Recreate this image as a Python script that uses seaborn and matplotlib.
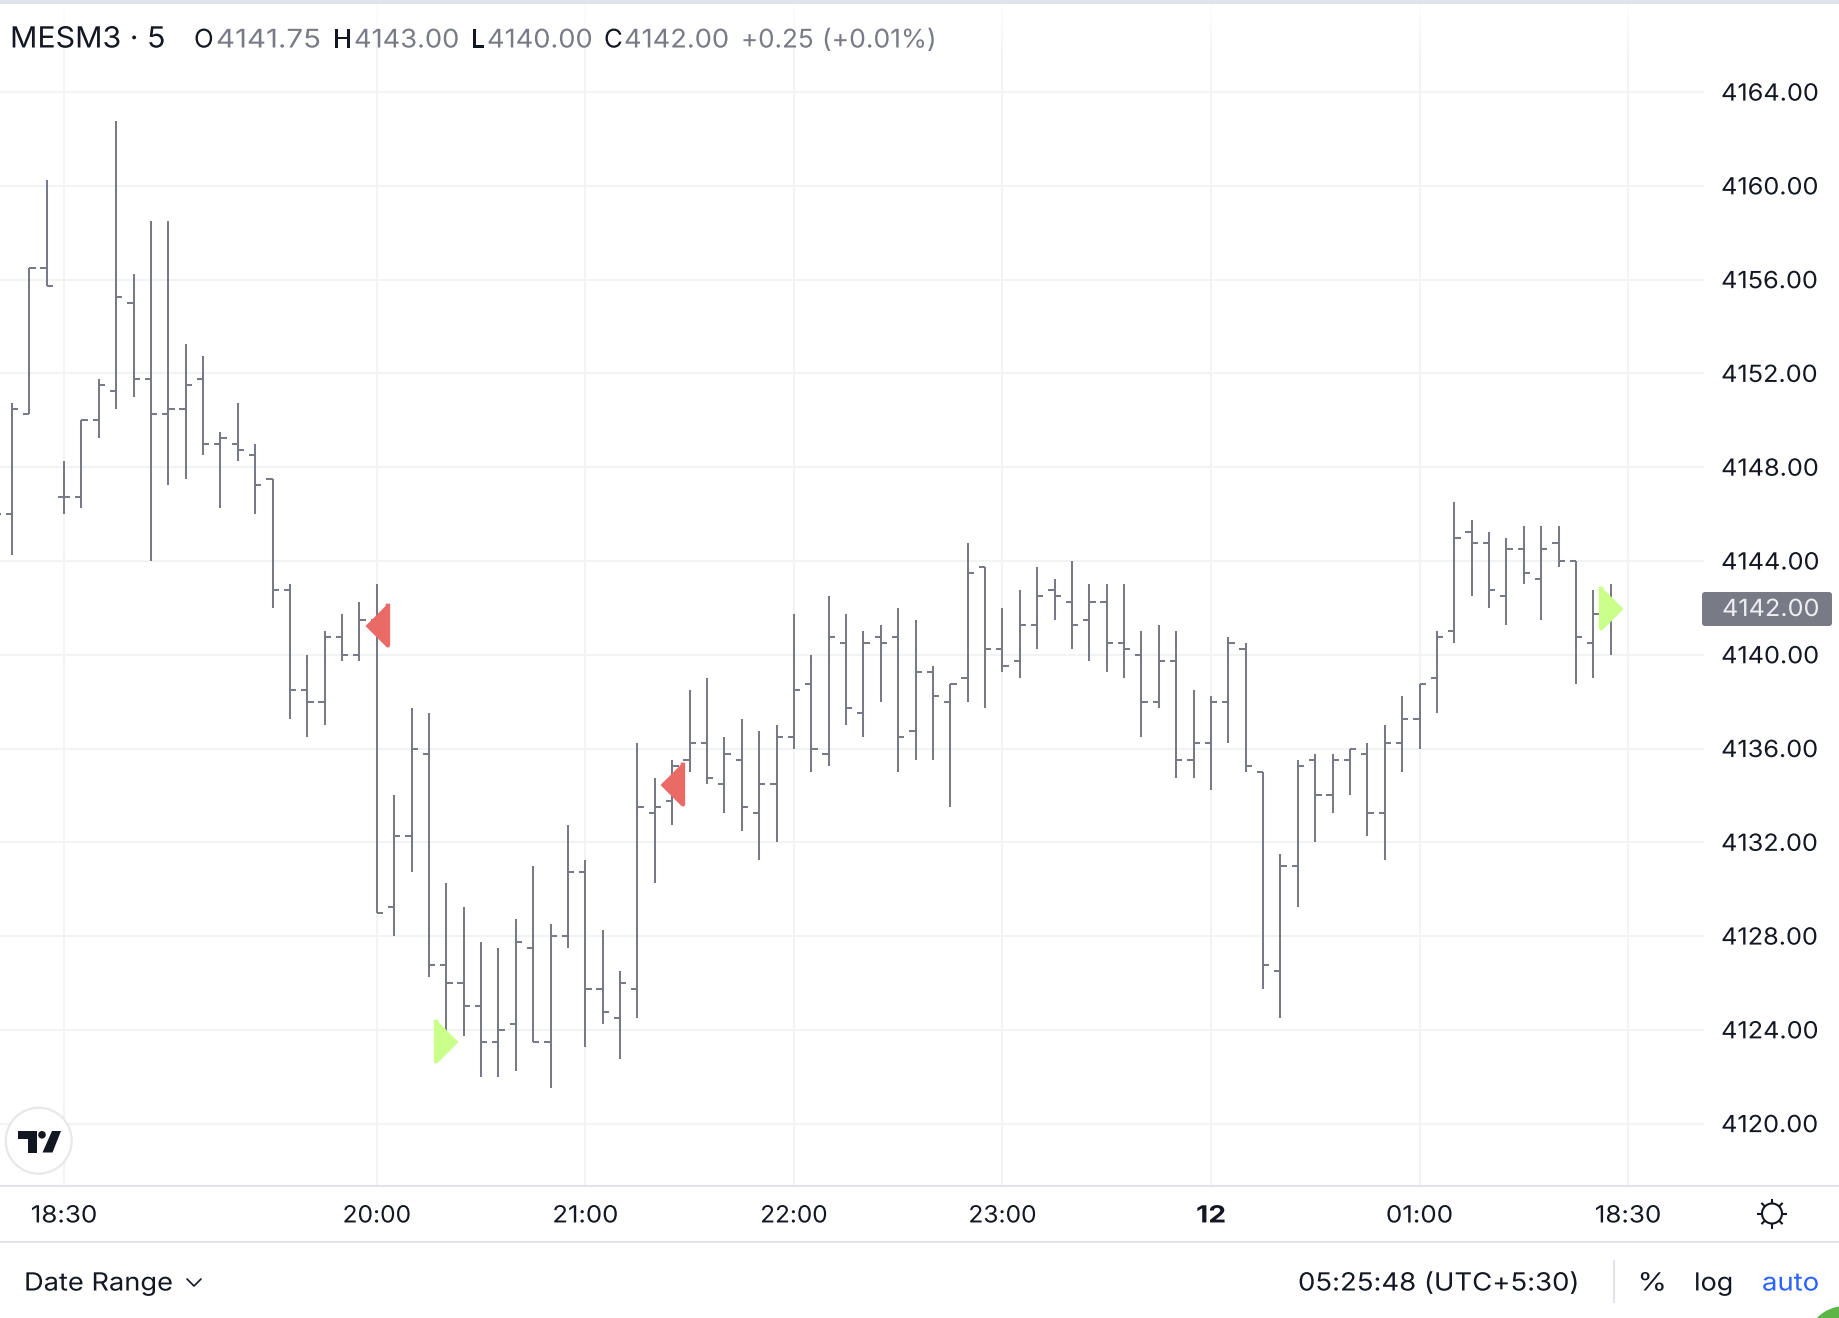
import numpy as np
import pandas as pd
import seaborn as sns
import matplotlib.pyplot as plt
from matplotlib.patches import Circle, FancyBboxPatch, Polygon, Rectangle
from matplotlib.patheffects import AbstractPathEffect
from matplotlib.transforms import Affine2D

# OHLC of the visible 5 minute bars (first bar is mostly off screen)
opens = [4146, 4146, 4150.25, 4156.5, 4146.75, 4146.75, 4150, 4151.25, 4155, 4151.75,
         4150.25, 4150.5, 4151.75, 4149, 4149, 4148.5, 4147.5, 4142.75, 4138.5, 4138,
         4140.75, 4140, 4141.5, 4129.25, 4132.25, 4135.75, 4126.75, 4126, 4125, 4123.5,
         4124.25, 4127.5, 4123.5, 4128, 4130.75, 4125.75, 4124.5, 4125.75, 4133.25, 4133.75,
         4135.5, 4136.25, 4134.5, 4135.5, 4133.25, 4134.5, 4136.5, 4138.75, 4135.75, 4140.5,
         4137.5, 4140.75, 4140.75, 4136.75, 4139.25, 4138, 4139, 4143.75, 4140.25, 4139.75,
         4141.25, 4142.75, 4142.25, 4141.5, 4142.25, 4140.5, 4140, 4138, 4139.75, 4135.5,
         4136.25, 4138, 4140.25, 4135, 4126.5, 4131, 4135.5, 4134, 4135.5, 4135.75,
         4133.25, 4136.25, 4137.25, 4139, 4141, 4145.25, 4144.75, 4142.5, 4144.5, 4143.25,
         4144.75, 4144, 4140.5, 4141.75]
highs = [4147, 4150.75, 4156.5, 4160.25, 4148.25, 4150, 4151.75, 4162.75, 4156.25, 4158.5,
         4158.5, 4153.25, 4152.75, 4149.5, 4150.75, 4149, 4147.5, 4143, 4140, 4141,
         4141.75, 4142.25, 4143, 4134, 4137.75, 4137.5, 4130.25, 4129.25, 4127.75, 4127.5,
         4128.75, 4131, 4128.5, 4132.75, 4131.25, 4128.25, 4126.5, 4136.25, 4134.75, 4135.5,
         4138.5, 4139, 4136.5, 4137.25, 4136.75, 4137, 4141.75, 4140, 4142.5, 4141.75,
         4141, 4141.25, 4142, 4141.5, 4139.5, 4138.75, 4144.75, 4143.75, 4142, 4142.75,
         4143.75, 4143.25, 4144, 4143, 4143, 4143, 4141, 4141.25, 4141, 4138.5,
         4138.25, 4140.75, 4140.5, 4135, 4131.5, 4135.5, 4135.75, 4135.75, 4136, 4136.25,
         4137, 4138.25, 4138.75, 4141, 4146.5, 4145.75, 4145.25, 4145, 4145.5, 4145.5,
         4145.5, 4144, 4142.75, 4143]
lows = [4145, 4144.25, 4150.25, 4155.75, 4146, 4146.25, 4149.25, 4150.5, 4151, 4144,
        4147.25, 4147.5, 4148.5, 4146.25, 4148.25, 4146, 4142, 4137.25, 4136.5, 4137,
        4139.75, 4139.75, 4129, 4128, 4130.75, 4126.25, 4123.5, 4123.75, 4122, 4122,
        4122.25, 4123.5, 4121.5, 4127.5, 4123.25, 4124.25, 4122.75, 4124.5, 4130.25, 4132.75,
        4135, 4134.5, 4133.25, 4132.5, 4131.25, 4132, 4136, 4135, 4135.25, 4137,
        4136.5, 4138, 4135, 4135.5, 4135.5, 4133.5, 4138, 4137.75, 4139.25, 4139,
        4140.25, 4141.5, 4140.25, 4139.75, 4139.25, 4139, 4136.5, 4137.75, 4134.75, 4134.75,
        4134.25, 4136.25, 4135, 4125.75, 4124.5, 4129.25, 4132, 4133.25, 4134, 4132.25,
        4131.25, 4135, 4136, 4137.5, 4140.5, 4142.5, 4142, 4141.25, 4143, 4141.5,
        4143.75, 4138.75, 4139, 4140]
closes = [4146, 4150.5, 4156.5, 4155.75, 4146.75, 4150, 4151.5, 4155.25, 4151.75, 4150.25,
          4150.5, 4151.5, 4149, 4149.25, 4148.75, 4147.25, 4142.75, 4138.5, 4138, 4140.75,
          4140, 4141.5, 4129, 4132.25, 4136, 4126.75, 4126, 4125, 4123.5, 4124,
          4127.75, 4123.5, 4128, 4130.75, 4125.75, 4124.75, 4126, 4133.5, 4133.5, 4135.25,
          4136.25, 4134.75, 4135.75, 4133.5, 4134.5, 4136.5, 4138.5, 4136, 4140.75, 4137.75,
          4140.5, 4140.5, 4136.5, 4139.25, 4138.25, 4138.75, 4143.5, 4140.25, 4139.5, 4141.25,
          4142.5, 4142.5, 4141.25, 4142.25, 4140.5, 4140.25, 4138, 4139.75, 4135.5, 4136.25,
          4138, 4140.5, 4135.25, 4126.75, 4131, 4135.25, 4134, 4135.5, 4136, 4133.25,
          4136.25, 4137.25, 4138.75, 4140.75, 4145, 4144.75, 4142.75, 4144.5, 4143.5, 4144.5,
          4144, 4140.75, 4141.75, 4142]

# buy and sell signals: bar number and price
sell_bars = [18, 35]
sell_prices = [4141.3, 4134.55]
buy_bars = [22, 89]
buy_prices = [4123.55, 4142.05]

price_ticks = list(range(4120, 4165, 4))
time_ticks = [0, 18, 30, 42, 54, 66, 78, 90]
time_labels = ['18:30', '20:00', '21:00', '22:00', '23:00', '12', '01:00', '18:30']

BAR = '#787b86'
INK = '#131722'
LINE = '#e0e3eb'
GRID = '#f2f3f5'


# Inter here has no tabular digits, so widen the glyphs a little to get the original text widths
class Widen(AbstractPathEffect):
    def __init__(self, factor, center=False):
        super().__init__()
        self.factor = factor
        self.center = center

    def draw_path(self, renderer, gc, tpath, affine, rgbFace=None):
        cx = 0
        if self.center:
            box = tpath.get_extents()
            cx = (box.x0 + box.x1) / 2
        stretch = Affine2D().translate(-cx, 0).scale(self.factor, 1).translate(cx, 0)
        renderer.draw_path(gc, tpath, stretch + affine, rgbFace)


sns.set_theme(style='white')
plt.rcParams['font.family'] = ['Inter', 'DejaVu Sans']

df = pd.DataFrame({'open': opens, 'high': highs, 'low': lows, 'close': closes})
df['bar'] = np.arange(len(df)) - 4
sells = pd.DataFrame({'bar': sell_bars, 'price': sell_prices})
buys = pd.DataFrame({'bar': buy_bars, 'price': buy_prices})

fig = plt.figure(figsize=(18.4, 13.18), dpi=100, facecolor='white')
W, H = 1840, 1318
ax = fig.add_axes([0, (H - 1186) / H, 1704 / W, (1186 - 3) / H])
ax.set_facecolor('white')
ax.set_xlim(-3.683, 94.37)
ax.set_ylim(4117.34, 4167.8)

ax.set_axisbelow(True)
ax.grid(axis='y', color=GRID, lw=1.5)
ax.grid(axis='x', color='#eff0f2', lw=1.1)
sns.despine(ax=ax, left=True, bottom=True)

# the OHLC bars
ax.vlines(df['bar'], df['low'], df['high'], color=BAR, lw=1.45, zorder=3)
ax.hlines(df['open'], df['bar'] - 0.36, df['bar'], color=BAR, lw=1.45, zorder=3)
ax.hlines(df['close'], df['bar'], df['bar'] + 0.36, color=BAR, lw=1.45, zorder=3)

# signal triangles
left_tri = [(0.5, 1), (0.5, -1), (-0.5, 0)]
right_tri = [(-0.5, 1), (-0.5, -1), (0.5, 0)]
sns.scatterplot(data=sells, x='bar', y='price', marker=left_tri, s=900, color='#ea6a65',
                edgecolor='#ea6a65', linewidth=3.2, zorder=5, ax=ax, legend=False)
sns.scatterplot(data=buys, x='bar', y='price', marker=right_tri, s=900, color='#caff8a',
                edgecolor='#caff8a', linewidth=3.2, zorder=5, ax=ax, legend=False)
ax.set_xlabel('')
ax.set_ylabel('')

ax.yaxis.tick_right()
ax.set_yticks(price_ticks)
ax.set_yticklabels([f'{p:.2f}' for p in price_ticks])
ax.tick_params(axis='y', length=0, pad=12.3, labelsize=17, labelcolor=INK)
for label in ax.get_yticklabels():
    label.set_path_effects([Widen(1.07)])
ax.set_xticks(time_ticks)
ax.set_xticklabels(time_labels)
ax.tick_params(axis='x', length=0, pad=14, labelsize=17, labelcolor=INK)
for label, f in zip(ax.get_xticklabels(), [1.1, 1.04, 1.09, 1.03, 1.04, 1.2, 1.1, 1.1]):
    label.set_path_effects([Widen(f, center=True)])
ax.get_xticklabels()[5].set_fontweight('bold')

# everything around the chart, in pixel coordinates
ui = fig.add_axes([0, 0, 1, 1], facecolor='none', zorder=5)
fade = np.ones((56, 1, 4))
fade[:, 0, 3] = np.linspace(0.85, 0, 56)
ui.imshow(fade, extent=[0, 1704, 60, 4], aspect='auto', zorder=1)
ui.set_xlim(0, W)
ui.set_ylim(H, 0)
ui.axis('off')

ui.add_patch(Rectangle((0, 0), W, 4, color=LINE, lw=0))
ui.add_patch(Rectangle((0, 1185), W, 2, color=LINE, lw=0))
ui.add_patch(Rectangle((0, 1241), W, 2, color=LINE, lw=0))
ui.add_patch(Rectangle((1613.5, 1260), 1.5, 43, color=LINE, lw=0))
ui.add_patch(Circle((1845, 1345), 39, color='#5cb645', lw=0))


def label(x, y, txt, size, col, f=1.0, **kw):
    t = ui.text(x, y, txt, fontsize=size, color=col, va='center', **kw)
    t.set_path_effects([Widen(f)])
    return t


label(10, 40, 'MESM3 · 5', 21, INK, 1.04)
for x, txt, col, f in [(194, 'O', INK, 1), (216, '4141.75', BAR, 1.145), (333, 'H', INK, 1),
                       (354, '4143.00', BAR, 1.06), (471, 'L', INK, 1), (487, '4140.00', BAR, 1.06),
                       (604, 'C', INK, 1), (624, '4142.00', BAR, 1.06),
                       (741, '+0.25', BAR, 1.01), (822, '(+0.01%)', BAR, 1.03)]:
    label(x, 41, txt, 18.5, col, f)

# last price tag
ui.add_patch(FancyBboxPatch((1702, 592), 130, 34, boxstyle='round,pad=0,rounding_size=3', color=BAR, lw=0))
label(1722, 610, f'{closes[-1]:.2f}', 17, '#eceef2', 1.07)

# logo
ui.add_patch(Circle((38.7, 1140.7), 33, fc='white', ec='#e8e8ea', lw=1.6))
ui.add_patch(Polygon([(18, 1131), (37, 1131), (37, 1152.5), (28, 1152.5), (28, 1139), (18, 1139)], color=INK, lw=0))
ui.add_patch(Circle((42, 1134.8), 3.8, color=INK, lw=0))
ui.add_patch(Polygon([(52, 1131), (61, 1131), (52.5, 1152.5), (42.5, 1152.5)], color=INK, lw=0))

# settings icon
ui.add_patch(Circle((1772, 1213.5), 10, fc='none', ec=INK, lw=1.5))
for a in np.arange(8) * np.pi / 4:
    ui.plot([1772 + 10 * np.cos(a), 1772 + 15 * np.cos(a)], [1213.5 + 10 * np.sin(a), 1213.5 + 15 * np.sin(a)],
            color=INK, lw=1.5, solid_capstyle='butt')

# bottom bar
label(24, 1284, 'Date Range', 18, INK, 1.09)
ui.plot([187, 194, 201], [1279, 1286, 1279], color=INK, lw=1.2)
label(1298, 1284, '05:25:48 (UTC+5:30)', 18, INK, 1.1)
label(1637.5, 1284, '%', 18, INK, 1.2)
label(1694, 1284, 'log', 18, INK, 1.08)
label(1762, 1284, 'auto', 18, '#2962ff', 1.1)

fig.savefig('out.png', dpi=100)
